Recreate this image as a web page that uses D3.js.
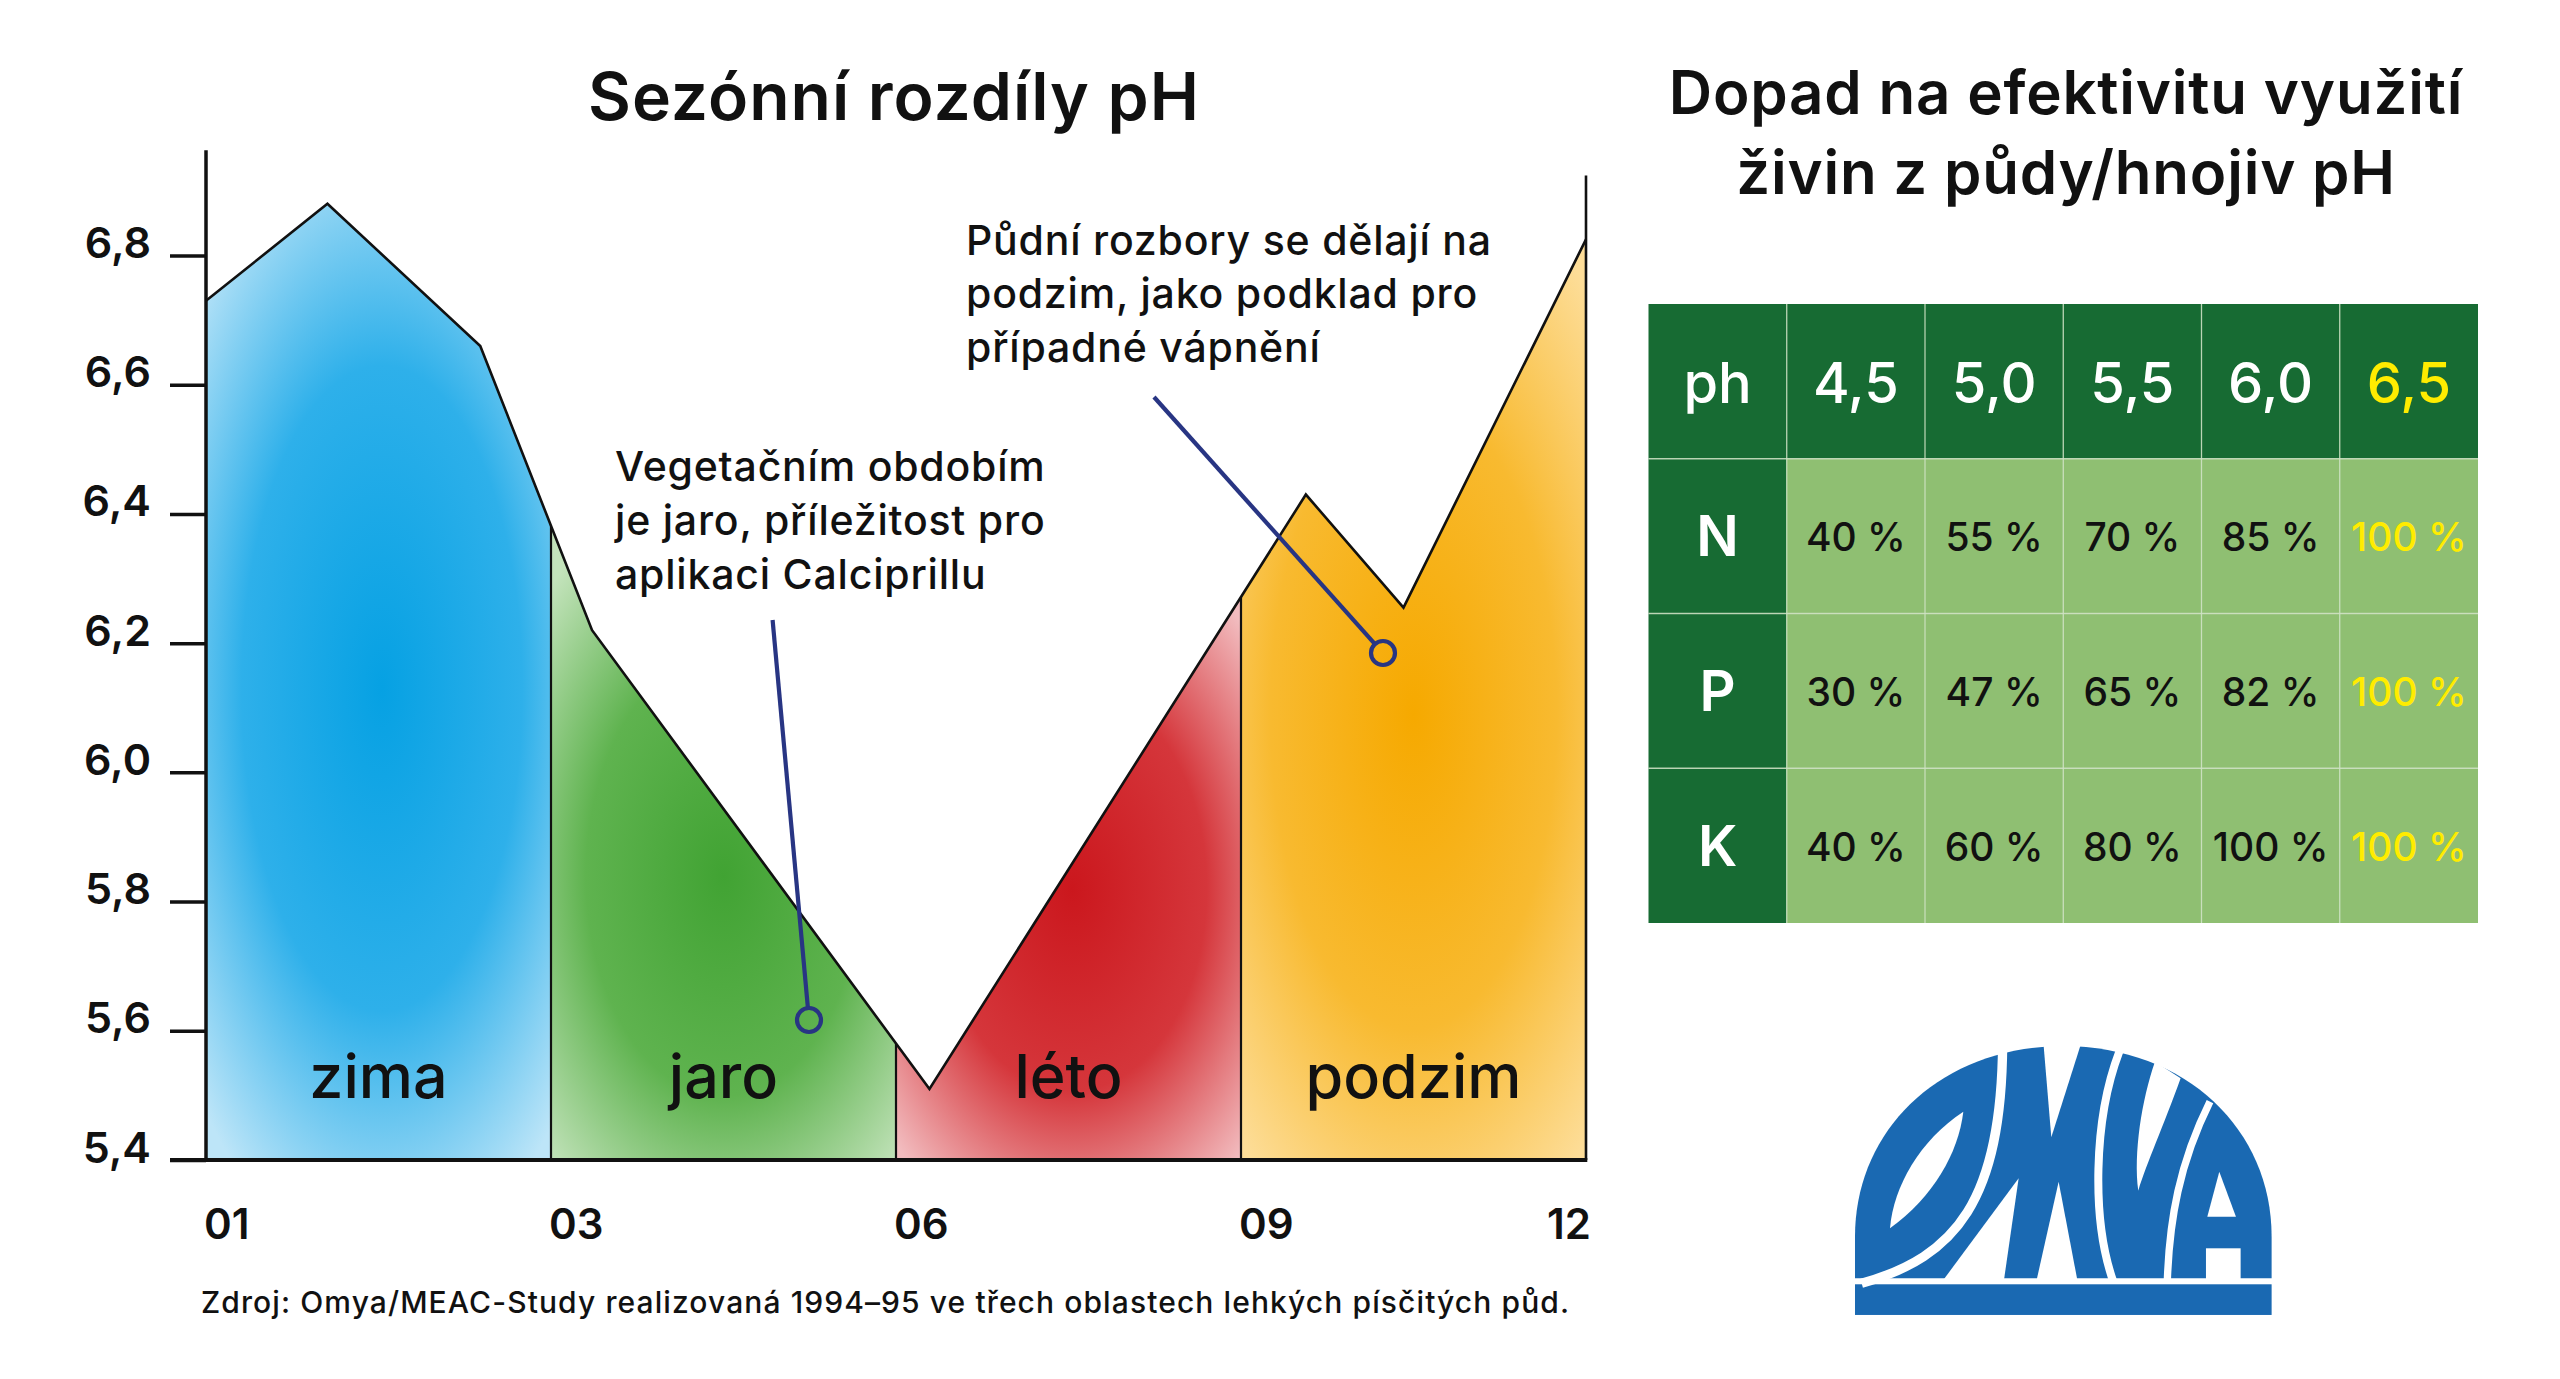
<!DOCTYPE html>
<html><head><meta charset="utf-8">
<script src="https://cdn.jsdelivr.net/npm/d3@7"></script>
<style>
html,body{margin:0;padding:0;background:#fff;overflow:hidden}
svg{display:block}
text{font-family:Inter,"Noto Sans",sans-serif}
</style>
</head><body>
<script>
// ---------- DATA ----------
const seasons = ["zima", "jaro", "léto", "podzim"];
const monthLabels = ["01", "03", "06", "09", "12"];
const yTicks = [5.4, 5.6, 5.8, 6.0, 6.2, 6.4, 6.6, 6.8];
// position along the time axis, in season units (0 = "01", 4 = "12")
const phPos = [0, 0.352, 0.795, 1.119, 2.097, 3.188, 3.471, 4.0];
const phValues = [6.73, 6.88, 6.66, 6.22, 5.51, 6.43, 6.255, 6.825];

const tableHeader = ["ph", "4,5", "5,0", "5,5", "6,0", "6,5"];
const nutrients = ["N", "P", "K"];
const effN = [40, 55, 70, 85, 100];
const effP = [30, 47, 65, 82, 100];
const effK = [40, 60, 80, 100, 100];

const titleLeft = "Sezónní rozdíly pH";
const titleRight = ["Dopad na efektivitu využití", "živin z půdy/hnojiv pH"];
const note1 = ["Půdní rozbory se dělají na", "podzim, jako podklad pro", "případné vápnění"];
const note2 = ["Vegetačním obdobím", "je jaro, příležitost pro", "aplikaci Calciprillu"];
const source = "Zdroj: Omya/MEAC-Study realizovaná 1994–95 ve třech oblastech lehkých písčitých půd.";

// ---------- STYLE ----------
const gradStops = [
  ["#06a1e3", "#2eb0ea", "#bde5f8"],
  ["#41a333", "#5fb34f", "#c3e3bb"],
  ["#cb171d", "#d5363b", "#f2bcbf"],
  ["#f6a900", "#f8ba30", "#fddd98"]
];
const gradGeom = [ // center in data units (t, ph), radius px, vertical stretch
  [0.51, 6.13, 255, 2.3],
  [1.50, 5.84, 250, 1.6],
  [2.51, 5.82, 245, 1.5],
  [3.50, 6.09, 260, 2.2]
];
const ink = "#111";
const navy = "#283583";

const W = 2560, H = 1379;
const svg = d3.select("body").append("svg").attr("width", W).attr("height", H);
const defs = svg.append("defs");

const x = d3.scaleLinear().domain([0, 4]).range([206, 1586]);
const y = d3.scaleLinear().domain([5.4, 6.8]).range([1160, 255.5]);

const pts = phPos.map((t, i) => ({t, v: phValues[i]}));

// gradients
seasons.forEach((s, i) => {
  const [ct, cv, r, k] = gradGeom[i];
  const cx = x(ct), cy = y(cv);
  const g = defs.append("radialGradient").attr("id", "g" + i)
    .attr("gradientUnits", "userSpaceOnUse")
    .attr("cx", cx).attr("cy", cy).attr("r", r)
    .attr("gradientTransform", `translate(${cx},${cy}) scale(1,${k}) translate(${-cx},${-cy})`);
  g.selectAll("stop").data(gradStops[i]).join("stop")
    .attr("offset", (d, j) => [0, 0.55, 1][j]).attr("stop-color", d => d);
  defs.append("clipPath").attr("id", "c" + i).append("rect")
    .attr("x", x(i)).attr("y", 0).attr("width", x(i + 1) - x(i)).attr("height", y(5.4));
});

const area = d3.area().x(d => x(d.t)).y0(y(5.4)).y1(d => y(d.v));
const line = d3.line().x(d => x(d.t)).y(d => y(d.v));

defs.append("clipPath").attr("id", "areaClip").append("path").attr("d", area(pts));

const plot = svg.append("g");
seasons.forEach((s, i) => {
  plot.append("path").attr("d", area(pts)).attr("fill", `url(#g${i})`)
    .attr("clip-path", `url(#c${i})`);
});
// dividers between seasons
plot.append("g").attr("clip-path", "url(#areaClip)")
  .selectAll("line").data([1, 2, 3]).join("line")
  .attr("x1", d => x(d)).attr("x2", d => x(d))
  .attr("y1", y(7.0)).attr("y2", y(5.4))
  .attr("stroke", ink).attr("stroke-width", 2.2);
// top outline
plot.append("path").attr("d", line(pts)).attr("fill", "none")
  .attr("stroke", ink).attr("stroke-width", 2.6).attr("stroke-linejoin", "miter");

// right frame line
svg.append("line").attr("x1", x(4)).attr("x2", x(4)).attr("y1", y(6.924)).attr("y2", y(5.4))
  .attr("stroke", ink).attr("stroke-width", 2.6);

// Y axis
const yAxis = d3.axisLeft(y).tickValues(yTicks).tickSize(36)
  .tickFormat(d => d3.format(".1f")(d).replace(".", ","));
const yg = svg.append("g").attr("transform", `translate(${x(0)},0)`).call(yAxis);
yg.select(".domain").remove();
yg.selectAll(".tick line").attr("stroke", ink).attr("stroke-width", 3.5);
yg.selectAll(".tick text").attr("x", -55).attr("dy", 0).attr("y", 2)
  .attr("fill", ink).style("font-size", "43px").style("font-weight", 600)
  .style("font-family", "Inter");
svg.append("line").attr("x1", x(0)).attr("x2", x(0)).attr("y1", y(6.963)).attr("y2", y(5.4) + 1.5)
  .attr("stroke", ink).attr("stroke-width", 3.5);
svg.append("line").attr("x1", x(0) - 36).attr("x2", x(4) + 1.3).attr("y1", y(5.4)).attr("y2", y(5.4))
  .attr("stroke", ink).attr("stroke-width", 4);

// X labels
svg.append("g").selectAll("text").data(monthLabels).join("text")
  .attr("x", (d, i) => x(i) + (i === 4 ? 5 : -2))
  .attr("y", 1239)
  .attr("text-anchor", (d, i) => i === 4 ? "end" : "start")
  .attr("fill", ink).style("font-size", "42px").style("font-weight", 600)
  .text(d => d);

// season labels
svg.append("g").selectAll("text").data(seasons).join("text")
  .attr("x", (d, i) => x(i + 0.5)).attr("y", 1098)
  .attr("text-anchor", "middle").attr("fill", ink)
  .style("font-size", "61px").style("font-weight", 500)
  .text(d => d);

// title
svg.append("text").attr("x", 894).attr("y", 120).attr("text-anchor", "middle")
  .attr("fill", ink).style("font-size", "66px").style("font-weight", 600)
  .style("letter-spacing", "1px").text(titleLeft);

// annotations
function note(lines, tx, tv, lh) {
  const t = svg.append("text").attr("fill", ink).style("font-size", "41px")
    .style("font-weight", 500).style("letter-spacing", "0.8px");
  t.selectAll("tspan").data(lines).join("tspan")
    .attr("x", x(tx)).attr("y", (d, i) => y(tv) + i * lh).text(d => d);
}
note(note1, x.invert(966), y.invert(254.6), 53.6);
note(note2, x.invert(615), y.invert(481), 54);

function callout(t0, v0, t1, v1) {
  const x0 = x(t0), y0 = y(v0), x1 = x(t1), y1 = y(v1), r = 12;
  const len = Math.hypot(x1 - x0, y1 - y0);
  svg.append("line").attr("x1", x0).attr("y1", y0)
    .attr("x2", x1 - (x1 - x0) / len * r).attr("y2", y1 - (y1 - y0) / len * r)
    .attr("stroke", navy).attr("stroke-width", 4.2);
  svg.append("circle").attr("cx", x1).attr("cy", y1).attr("r", r)
    .attr("fill", "none").attr("stroke", navy).attr("stroke-width", 4.2);
}
callout(x.invert(1154), y.invert(397), x.invert(1383), y.invert(653));
callout(x.invert(772.6), y.invert(620), x.invert(809), y.invert(1020));

// source
svg.append("text").attr("x", 201).attr("y", 1313).attr("fill", ink)
  .style("font-size", "30px").style("font-weight", 500).style("letter-spacing", "1.1px").text(source);

// ---------- RIGHT PANEL ----------
const rt = svg.append("text").attr("text-anchor", "middle").attr("fill", ink)
  .style("font-size", "60px").style("font-weight", 600).style("letter-spacing", "0.8px");
rt.selectAll("tspan").data(titleRight).join("tspan")
  .attr("x", 2066).attr("y", (d, i) => 114 + i * 80).text(d => d);

const rows = [effN, effP, effK];
const cx = d3.scaleBand().domain(d3.range(6)).range([1648.5, 2478]);
const cy = d3.scaleBand().domain(d3.range(4)).range([304, 923]);
const dark = "#176b33", light = "#8fbf72", yellow = "#ffec00", gridC = "#cfe2c4";

const cells = [];
tableHeader.forEach((h, c) => cells.push({r: 0, c, text: h, head: true}));
rows.forEach((vals, ri) => {
  cells.push({r: ri + 1, c: 0, text: nutrients[ri], head: true});
  vals.forEach((v, c) => cells.push({r: ri + 1, c: c + 1, text: v + " %", head: false}));
});
const tg = svg.append("g");
tg.selectAll("rect").data(cells).join("rect")
  .attr("x", d => cx(d.c)).attr("y", d => cy(d.r))
  .attr("width", cx.bandwidth()).attr("height", cy.bandwidth())
  .attr("fill", d => d.head ? dark : light);
// grid lines
tg.selectAll("line.v").data(d3.range(1, 6)).join("line").attr("class", "v")
  .attr("x1", d => cx(d)).attr("x2", d => cx(d)).attr("y1", cy(0)).attr("y2", cy(3) + cy.bandwidth())
  .attr("stroke", gridC).attr("stroke-width", 1.3).attr("stroke-opacity", 0.85);
tg.selectAll("line.h").data(d3.range(1, 4)).join("line").attr("class", "h")
  .attr("x1", cx(0)).attr("x2", cx(5) + cx.bandwidth()).attr("y1", d => cy(d)).attr("y2", d => cy(d))
  .attr("stroke", gridC).attr("stroke-width", 1.3).attr("stroke-opacity", 0.85);
tg.selectAll("text").data(cells).join("text")
  .attr("x", d => cx(d.c) + cx.bandwidth() / 2)
  .attr("y", d => cy(d.r) + cy.bandwidth() / 2 + (d.head ? (d.r === 0 ? 22 : 20) : 15))
  .attr("text-anchor", "middle")
  .attr("fill", d => d.c === 5 ? yellow : (d.head ? "#fff" : ink))
  .style("font-size", d => d.head ? "56px" : "39px")
  .style("font-weight", d => d.head ? (d.r === 0 ? 500 : 600) : 500)
  .text(d => d.text);

// ---------- LOGO ----------
const blue = "#1a69b2";
const logo = svg.append("g").attr("transform", "translate(1830,900) scale(0.3333)");
logo.append("path").attr("fill", blue)
  .attr("d", "M75,1135 L75,1010 C75,690 330,440 700,438 C1070,440 1325,690 1325,1010 L1325,1135 Z");
logo.append("rect").attr("fill", blue).attr("x", 75).attr("y", 1153).attr("width", 1250).attr("height", 92);
const wh = "#fff";
logo.append("path").attr("fill", "none").attr("stroke", wh).attr("stroke-width", 28)
  .attr("d", "M95,1150 C380,1070 515,900 518,430");
logo.append("path").attr("fill", wh)
  .attr("d", "M180,985 C190,860 270,720 400,635 C385,760 310,890 180,985 Z");
logo.append("path").attr("fill", wh).attr("d", "M340,1140 L522,1140 L566,835 Z");
logo.append("path").attr("fill", wh).attr("d", "M640,425 L755,425 L664,712 Z");
logo.append("path").attr("fill", wh).attr("d", "M620,1140 L742,1140 L686,845 Z");
logo.append("path").attr("fill", "none").attr("stroke", wh).attr("stroke-width", 24)
  .attr("d", "M868,455 C790,660 785,960 850,1145");
logo.append("path").attr("fill", wh)
  .attr("d", "M975,485 C935,600 910,760 925,872 C950,790 1000,680 1052,535 Z");
logo.append("path").attr("fill", "none").attr("stroke", wh).attr("stroke-width", 22)
  .attr("d", "M1012,1145 C1018,960 1048,790 1140,605");
logo.append("path").attr("fill", wh).attr("d", "M1132,950 L1218,950 L1168,815 Z");
logo.append("rect").attr("fill", wh).attr("x", 1128).attr("y", 1045).attr("width", 104).attr("height", 100);
</script>
</body></html>
